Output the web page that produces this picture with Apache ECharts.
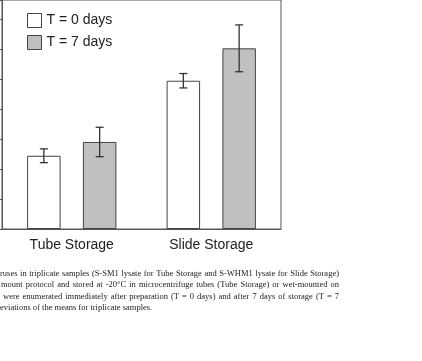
<!DOCTYPE html>
<html>
<head>
<meta charset="utf-8">
<script src="https://cdn.jsdelivr.net/npm/echarts@6/dist/echarts.min.js"></script>
<style>
  html, body { margin: 0; padding: 0; background: #fff; }
  #chart { width: 422px; height: 361px; }
</style>
</head>
<body>
<div id="chart"></div>
<script>
// data (units = one y tick)
var categories = ['Tube Storage', 'Slide Storage'];
var day0Mean = [2.44, 4.94];
var day0Err = [0.23, 0.24];
var day7Mean = [2.90, 6.02];
var day7Err = [0.49, 0.78];
var yTop = 7.63; // top of the visible plot, in tick units

var captionLines = [
  'ruses in triplicate samples (S-SM1 lysate for Tube Storage and S-WHM1 lysate for Slide Storage)',
  'mount protocol and stored at -20°C in microcentrifuge tubes (Tube Storage) or wet-mounted on',
  'were enumerated immediately after preparation (T = 0 days) and after 7 days of storage (T = 7',
  'eviations of the means for triplicate samples.'
];

var sans = '"Liberation Sans", Arial, sans-serif';
var serif = '"Liberation Serif", "Times New Roman", serif';

//error bar ranges [category, low, high]
function errData(mean, err){
  return mean.map(function(m, i){ return [i, m - err[i], m + err[i]]; });
}

//draws whisker, shifted to the matching bar (side = -1 or 1)
function errRender(side){
  return function(params, api){
    var band = api.size([1, 0])[0];
    var lo = api.coord([api.value(0), api.value(1)]);
    var hi = api.coord([api.value(0), api.value(2)]);
    var x = lo[0] + side * band * 0.2;
    var cap = 4;
    var st = { stroke: '#333', lineWidth: 1.3 };
    return {
      type: 'group',
      children: [
        { type: 'line', shape: { x1: x, y1: lo[1], x2: x, y2: hi[1] }, style: st },
        { type: 'line', shape: { x1: x - cap, y1: lo[1], x2: x + cap, y2: lo[1] }, style: st },
        { type: 'line', shape: { x1: x - cap, y1: hi[1], x2: x + cap, y2: hi[1] }, style: st }
      ]
    };
  };
}

//caption lines, first three justified between left and right edges
var ctx = document.createElement('canvas').getContext('2d');
ctx.font = '8.5px ' + serif;
var lineLeft = [0, 1, 3, 0];
var lineY = [273.5, 285, 296.5, 308];
var rightEdge = 339;
var graphic = [];
captionLines.forEach(function(line, li){
  var words = line.split(' ');
  var justify = li < 3;
  var total = 0;
  words.forEach(function(w){ total += ctx.measureText(w).width; });
  var gap = justify ? (rightEdge - lineLeft[li] - total) / (words.length - 1) : ctx.measureText(' ').width;
  var x = lineLeft[li];
  words.forEach(function(w){
    graphic.push({
      type: 'text', x: x, y: lineY[li], silent: true,
      style: { text: w, fontSize: 8.5, fontFamily: serif, fill: '#222', verticalAlign: 'middle' }
    });
    x += ctx.measureText(w).width + gap;
  });
});

var chart = echarts.init(document.getElementById('chart'));
var option = {
  animation: false,
  backgroundColor: '#fff',
  grid: { left: 2, top: 0, width: 279, height: 229, show: true, borderColor: '#555', borderWidth: 1 },
  legend: {
    data: ['T = 0 days', 'T = 7 days'],
    orient: 'vertical', left: 27, top: 13, padding: 0,
    itemWidth: 14, itemHeight: 14, itemGap: 7,
    icon: 'rect',
    itemStyle: { borderColor: '#444', borderWidth: 1 },
    textStyle: { fontSize: 14, color: '#222', fontFamily: sans }
  },
  xAxis: {
    type: 'category', data: categories,
    axisLine: { lineStyle: { color: '#555', width: 1 } },
    axisTick: { show: false },
    axisLabel: { fontSize: 14, color: '#222', margin: 9, fontFamily: sans }
  },
  yAxis: {
    type: 'value', min: 0, max: yTop, interval: 1,
    splitLine: { show: false },
    axisLine: { show: true, lineStyle: { color: '#555', width: 1 } },
    axisTick: { show: true, length: 3, lineStyle: { color: '#555' } },
    axisLabel: { show: false }
  },
  series: [
    { name: 'T = 0 days', type: 'bar', data: day0Mean, barWidth: '24%', barGap: '66.7%',
      itemStyle: { color: '#ffffff', borderColor: '#444', borderWidth: 1 } },
    { name: 'T = 7 days', type: 'bar', data: day7Mean, barWidth: '24%', barGap: '66.7%',
      itemStyle: { color: '#c0c0c0', borderColor: '#444', borderWidth: 1 } },
    { type: 'custom', data: errData(day0Mean, day0Err), renderItem: errRender(-1),
      encode: { x: 0, y: [1, 2] }, z: 5, silent: true },
    { type: 'custom', data: errData(day7Mean, day7Err), renderItem: errRender(1),
      encode: { x: 0, y: [1, 2] }, z: 5, silent: true }
  ],
  graphic: graphic
};
chart.setOption(option);
</script>
</body>
</html>
